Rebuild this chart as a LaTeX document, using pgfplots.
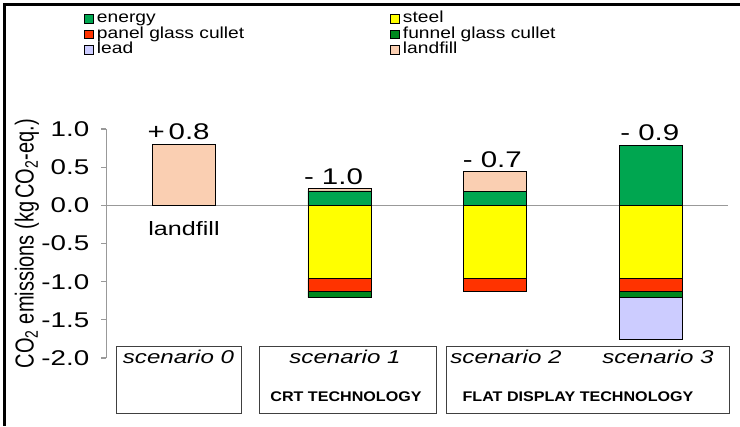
\documentclass[border=0pt]{standalone}
\usepackage{fontspec}
\setmainfont{Liberation Sans}[FakeStretch=1.3]
\newfontfamily\techfont{Liberation Sans}[FakeStretch=1.15]
\newfontfamily\legfont{Liberation Sans}[FakeStretch=1.2]
\newfontfamily\plainfont{Liberation Sans}
\usepackage{pgfplots}
\pgfplotsset{compat=1.18}
\definecolor{energyc}{RGB}{0,166,80}
\definecolor{steelc}{RGB}{255,255,0}
\definecolor{panelc}{RGB}{255,51,0}
\definecolor{funnelc}{RGB}{0,135,30}
\definecolor{leadc}{RGB}{204,204,255}
\definecolor{landfillc}{RGB}{250,207,178}
\pgfplotsset{sq/.style={legend image code/.code={\draw[fill=#1,draw=black,line width=0.5pt] (0pt,-3.2pt) rectangle (7pt,3.2pt);}}}
\begin{document}
\begin{tikzpicture}
\begin{scope}[x=0.75pt,y=-0.75pt]
\path[use as bounding box] (0,0) rectangle (740,426);
\draw[line width=1.8pt] (3,4.5) -- (740,4.5);
\draw[line width=1.8pt] (4.5,3) -- (4.5,426);
\end{scope}
\begin{axis}[
  at={(79.6875pt,-268.5pt)}, anchor=south west,
  width=466.5pt, height=171.75pt, scale only axis,
  xmin=-0.5, xmax=3.5, ymin=-2, ymax=1,
  axis x line=none, axis y line*=left,
  y axis line style={draw=gray!80, line width=0.8pt},
  xtick=\empty,
  ytick={-2,-1.5,-1,-0.5,0,0.5,1},
  yticklabels={-2.0,-1.5,-1.0,-0.5,0.0,0.5,1.0},
  tick align=outside, major tick length=3.75pt,
  ytick style={draw=gray!80, line width=0.8pt},
  yticklabel style={font=\fontsize{16}{18}\selectfont, xshift=-5.5pt},
  extra y ticks={0}, extra y tick labels={},
  extra y tick style={grid=major, tick style={draw=none}},
  major grid style={draw=gray!80, line width=0.8pt},
  ylabel={CO\textsubscript{2} emissions (kg\,CO\textsubscript{2}-eq.)},
  ylabel style={at={(axis description cs:-0.1274,0.5)}, anchor=center, yscale=1.3, font=\plainfont\fontsize{15}{18}\selectfont},
  ybar stacked, bar width=47.25pt,
  clip=false,
  legend columns=2,
  legend cell align=left,
  legend style={at={(axis description cs:-0.0358,1.514)}, anchor=north west, draw=none, fill=none, inner sep=0pt, outer sep=0pt, column sep=0pt, row sep=0pt, font=\legfont\fontsize{12}{13}\selectfont, nodes={inner xsep=2.25pt, inner ysep=0pt, text height=8.6pt, text depth=3pt}},
]
\addlegendimage{sq=energyc}\addlegendentry{\makebox[217.5pt][l]{energy}}
\addlegendimage{sq=steelc}\addlegendentry{steel}
\addlegendimage{sq=panelc}\addlegendentry{\makebox[217.5pt][l]{panel glass cullet}}
\addlegendimage{sq=funnelc}\addlegendentry{funnel glass cullet}
\addlegendimage{sq=leadc}\addlegendentry{\makebox[217.5pt][l]{lead}}
\addlegendimage{sq=landfillc}\addlegendentry{landfill}

% negative contributions (stacked downward from zero)
\addplot[fill=steelc, draw=black, line width=0.5pt, forget plot] coordinates {(0,0) (1,-0.96) (2,-0.96) (3,-0.96)};
\addplot[fill=panelc, draw=black, line width=0.5pt, forget plot] coordinates {(0,0) (1,-0.17) (2,-0.17) (3,-0.17)};
\addplot[fill=funnelc, draw=black, line width=0.5pt, forget plot] coordinates {(0,0) (1,-0.08) (2,0) (3,-0.07)};
\addplot[fill=leadc, draw=black, line width=0.5pt, forget plot] coordinates {(0,0) (1,0) (2,0) (3,-0.55)};
% positive contributions (stacked upward from zero)
\addplot[fill=energyc, draw=black, line width=0.5pt, forget plot] coordinates {(0,0) (1,0.19) (2,0.18) (3,0.79)};
\addplot[fill=landfillc, draw=black, line width=0.5pt, forget plot] coordinates {(0,0.8) (1,0.03) (2,0.26) (3,0)};

\node[font=\fontsize{17}{19}\selectfont, anchor=south, inner sep=0pt, yshift=3pt, xshift=-4pt] at (axis cs:0,0.8) {+\,0.8};
\node[font=\fontsize{17}{19}\selectfont, anchor=south, inner sep=0pt, yshift=3pt, xshift=-4.5pt] at (axis cs:1,0.22) {- 1.0};
\node[font=\fontsize{17}{19}\selectfont, anchor=south, inner sep=0pt, yshift=3pt, xshift=-2pt] at (axis cs:2,0.44) {- 0.7};
\node[font=\fontsize{17}{19}\selectfont, anchor=south, inner sep=0pt, yshift=3pt, xshift=-0.5pt] at (axis cs:3,0.79) {- 0.9};
\node[font=\fontsize{14.5}{16}\selectfont] at (axis cs:0,-0.31) {landfill};
\end{axis}
\begin{scope}[x=0.75pt,y=-0.75pt]
\draw[draw=black!75, line width=0.75pt] (116,346) rectangle (241,413);
\draw[draw=black!75, line width=0.75pt] (259,346) rectangle (436,413);
\draw[draw=black!75, line width=0.75pt] (446,346) rectangle (729,413);
\node[font=\itshape\fontsize{13.9}{16}\selectfont] at (178.5,356.5) {scenario 0};
\node[font=\itshape\fontsize{13.9}{16}\selectfont] at (345,356.5) {scenario 1};
\node[font=\itshape\fontsize{13.9}{16}\selectfont] at (506,356.5) {scenario 2};
\node[font=\itshape\fontsize{13.9}{16}\selectfont] at (658,356.5) {scenario 3};
\node[font=\techfont\bfseries\fontsize{10.5}{12}\selectfont] at (346,396.7) {CRT TECHNOLOGY};
\node[font=\techfont\bfseries\fontsize{10.5}{12}\selectfont] at (578,396.7) {FLAT DISPLAY TECHNOLOGY};
\end{scope}
\end{tikzpicture}
\end{document}
